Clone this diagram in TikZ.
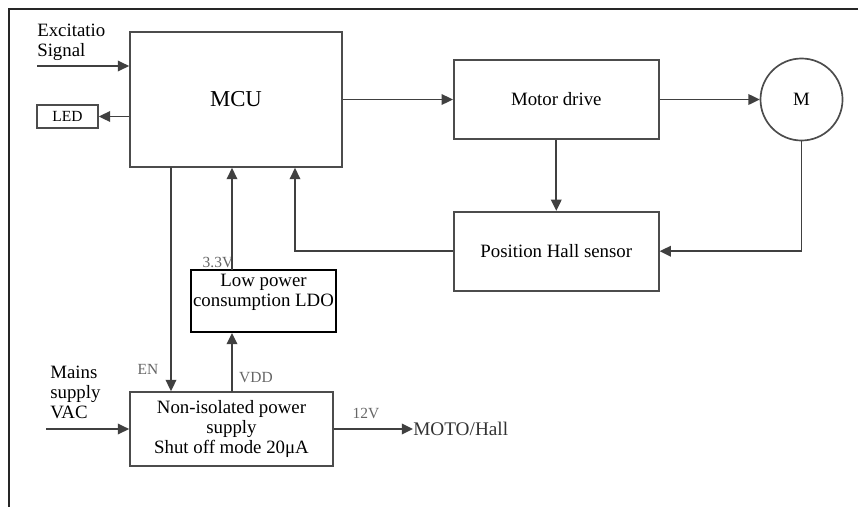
\documentclass[tikz,border=0pt]{standalone}
\usepackage{fontspec}
\setmainfont{Liberation Serif}
\usetikzlibrary{positioning,arrows.meta}

\begin{document}
\begin{tikzpicture}[x=0.025cm, y=-0.025cm,
    blk/.style={draw=black!70, line width=1.2pt, inner sep=0pt, align=center, font=\fontsize{13.4}{14.3}\selectfont},
    txt/.style={inner sep=0pt, align=left, font=\fontsize{13.4}{14.3}\selectfont},
    lbl/.style={inner sep=0pt, text=black!60, font=\fontsize{11}{12}\selectfont},
    line/.style={draw=black!75, line width=1.3pt},
    arr/.style={-{Triangle[length=8pt,width=7.5pt]}},
    node distance=1.775cm and 2.75cm]
  \useasboundingbox (0,0) rectangle (858,507);
  \draw[line width=2pt, black!85] (9,507) -- (9,9) -- (858,9);

  \node (mcu) [blk, minimum width=5.3cm, minimum height=3.375cm, font=\fontsize{16.2}{18}\selectfont] at (236,99.5) {MCU};
  \node (drive) [blk, minimum width=5.125cm, minimum height=1.975cm, right=of mcu] {Motor drive};
  \node (motor) [blk, circle, minimum size=2.05cm, right=2.5cm of drive] {M};
  \node (hall) [blk, minimum width=5.125cm, minimum height=1.975cm, below=of drive] {Position Hall sensor};
  \node (led) [blk, minimum width=1.525cm, minimum height=0.575cm, font=\fontsize{11}{12}\selectfont] at (67.5,116.5) {LED};
  \node (ldo) [blk, draw=black, line width=1.4pt, minimum width=3.625cm, minimum height=1.55cm] at (263.5,301) {};
  \node (ldotxt) [txt, align=center, below=3.5pt of ldo.north] {Low power\\consumption LDO};
  \node (psu) [blk, minimum width=5.075cm, minimum height=1.85cm] at (231.5,429) {Non-isolated power\\supply\\Shut off mode 20μA};

  \node (exc) [txt, anchor=north west] at (37,24) {Excitatio\\Signal};
  \node (mains) [txt, anchor=north west] at (50,366) {Mains\\supply\\VAC};
  \node (moto) [txt, anchor=west, text=black!80, font=\fontsize{13.7}{15}\selectfont] at (413,429) {MOTO/Hall};

  \node (l33) [lbl] at (218,262) {3.3V};
  \node (len) [lbl] at (148,369) {EN};
  \node (lvdd) [lbl] at (256,378) {VDD};
  \node (l12) [lbl] at (366,413) {12V};

  \coordinate (excin) at (37,66);
  \coordinate (vacin) at (46,429);
  \coordinate (en) at (171,167);
  \coordinate (vdd) at (232,392);
  \coordinate (v33) at (232,270);
  \coordinate (fb) at (295,249.5);

  \draw[line, arr] (excin) -- (excin -| mcu.west);
  \draw[line, arr] (mcu.west |- led.east) -- (led.east);
  \draw[line, arr] (mcu.east) -- (drive.west);
  \draw[line, arr] (drive.east) -- (motor.west);
  \draw[line, arr] (drive.south) -- (hall.north);
  \draw[line, arr] (motor.south) |- (hall.east);
  \draw[line, arr] (hall.west) -| (fb |- mcu.south);
  \draw[line, arr] (v33) -- (v33 |- mcu.south);
  \draw[line, arr] (en) -- (en |- psu.north);
  \draw[line, arr] (vdd) -- (vdd |- ldo.south);
  \draw[line, arr] (vacin) -- (psu.west);
  \draw[line, arr] (psu.east) -- (moto.west);
\end{tikzpicture}
\end{document}
